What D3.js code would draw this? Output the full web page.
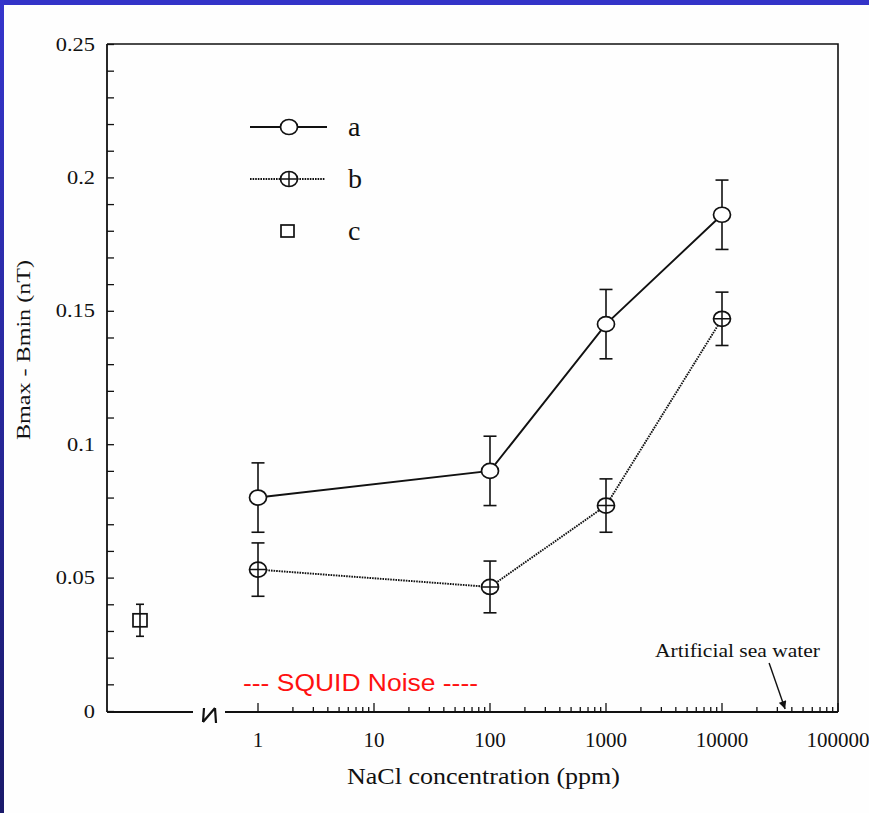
<!DOCTYPE html>
<html>
<head>
<meta charset="utf-8">
<script src="https://cdn.jsdelivr.net/npm/d3@7"></script>
<style>
  html, body { margin: 0; padding: 0; background: #ffffff; }
  svg { display: block; }
</style>
</head>
<body>
<svg id="chart" width="869" height="813"></svg>
<script>
// NaCl concentrations (ppm) for the measured series
const concentrations = [1, 100, 1000, 10000];
// series a: Bmax - Bmin (nT) and its error
const seriesA = [0.080, 0.090, 0.145, 0.186];
const errorA = [0.013, 0.013, 0.013, 0.013];
// series b
const seriesB = [0.053, 0.0465, 0.077, 0.147];
const errorB = [0.010, 0.0097, 0.010, 0.010];
// series c: the blank (no NaCl) reference
const seriesC = [0.034];
const errorC = [0.006];
const blankCategory = ["blank"];
// axis ticks
const yTicks = [0, 0.05, 0.1, 0.15, 0.2, 0.25];
const yTickLabels = ["0", "0.05", "0.1", "0.15", "0.2", "0.25"];
const xTicks = [1, 10, 100, 1000, 10000, 100000];
const xTickLabels = ["1", "10", "100", "1000", "10000", "100000"];
const legendLabels = ["a", "b", "c"];
const seaWaterPpm = 35000;

const svg = d3.select("#chart");

// page frame: blue band along the top and left edges
const defs = svg.append("defs");
const grad = defs.append("linearGradient")
  .attr("id", "edge").attr("x1", 0).attr("y1", 0).attr("x2", 0).attr("y2", 1);
grad.append("stop").attr("offset", "0%").attr("stop-color", "#3535cc");
grad.append("stop").attr("offset", "100%").attr("stop-color", "#1a1a6a");
svg.append("rect").attr("x", 0).attr("y", 0).attr("width", 869).attr("height", 813).attr("fill", "#fefefe");
svg.append("rect").attr("x", 0).attr("y", 0).attr("width", 869).attr("height", 5).attr("fill", "#3333c8");
svg.append("rect").attr("x", 0).attr("y", 0).attr("width", 4).attr("height", 813).attr("fill", "url(#edge)");

const plotLeft = 107, plotTop = 44, plotRight = 838, plotBottom = 711;
const logStart = 258;
const breakLeft = 193, breakRight = 225;

const y = d3.scaleLinear().domain([0, 0.25]).range([plotBottom, plotTop]);
const x = d3.scaleLog().domain([1, 100000]).range([logStart, plotRight]);
const xBlank = d3.scaleBand().domain(blankCategory).range([plotLeft, 173]);

const ink = "#111";
const serif = "'Liberation Serif', 'Times New Roman', serif";

// frame lines (top and right)
svg.append("path")
  .attr("d", `M${plotLeft},${plotTop}H${plotRight}V${plotBottom + 1}`)
  .attr("fill", "none").attr("stroke", ink).attr("stroke-width", 1.6);

// y axis with inward ticks every 0.01
const yAxis = d3.axisRight(y)
  .tickValues(d3.range(0, 0.2501, 0.01))
  .tickSize(7).tickFormat("");
const yg = svg.append("g").attr("transform", `translate(${plotLeft},0)`).call(yAxis);
yg.select(".domain").attr("stroke", ink).attr("stroke-width", 1.8).attr("d", `M0,${plotTop}V${plotBottom + 1}`);
yg.selectAll(".tick line").attr("stroke", ink).attr("stroke-width", 1.3);

// y tick labels, slightly widened serif
svg.append("g").selectAll("text").data(yTicks).join("text")
  .attr("transform", d => `translate(95,${y(d) + 6.5}) scale(1.18,1)`)
  .attr("text-anchor", "end")
  .attr("font-family", serif).attr("font-size", 19)
  .attr("fill", ink)
  .text((d, i) => yTickLabels[i]);

// x axis (log), broken near the origin
const minorX = [];
for (let e = 0; e < 5; e++) for (let m = 1; m <= 9; m++) minorX.push(m * Math.pow(10, e));
minorX.push(100000);
const xg = svg.append("g");
xg.append("path")
  .attr("d", `M${plotLeft},${plotBottom + 1}H${breakLeft}M${breakRight},${plotBottom + 1}H${plotRight}`)
  .attr("stroke", ink).attr("stroke-width", 1.8).attr("fill", "none");
xg.selectAll("line").data(minorX).join("line")
  .attr("x1", d => x(d)).attr("x2", d => x(d))
  .attr("y1", plotBottom + 1)
  .attr("y2", d => xTicks.includes(d) ? plotBottom - 8 : plotBottom - 4)
  .attr("stroke", ink).attr("stroke-width", 1.3);
// break mark
xg.append("path")
  .attr("d", `M${breakLeft + 11},${plotBottom - 3}L${breakLeft + 10},${plotBottom + 11}` +
             `M${breakLeft + 10},${plotBottom + 11}L${breakLeft + 22},${plotBottom - 3}` +
             `M${breakLeft + 22},${plotBottom - 3}L${breakLeft + 23},${plotBottom + 12}`)
  .attr("stroke", ink).attr("stroke-width", 2.2).attr("fill", "none");

svg.append("g").selectAll("text").data(xTicks).join("text")
  .attr("x", d => x(d)).attr("y", plotBottom + 36)
  .attr("text-anchor", "middle")
  .attr("font-family", serif).attr("font-size", 21)
  .attr("fill", ink)
  .text((d, i) => xTickLabels[i]);

// axis titles
svg.append("text")
  .attr("x", 347).attr("y", 784)
  .attr("font-family", serif).attr("font-size", 23)
  .attr("textLength", 273).attr("lengthAdjust", "spacingAndGlyphs")
  .attr("fill", ink).text("NaCl concentration (ppm)");
svg.append("text")
  .attr("transform", "translate(30,440) rotate(-90)")
  .attr("font-family", serif).attr("font-size", 19)
  .attr("textLength", 180).attr("lengthAdjust", "spacingAndGlyphs")
  .attr("fill", ink).text("Bmax - Bmin (nT)");

// error bars
function errorBars(xs, vals, errs, half) {
  const g = svg.append("g").attr("stroke", ink).attr("stroke-width", 1.6);
  vals.forEach((v, i) => {
    const cx = xs[i];
    const yt = y(v + errs[i]), yb = y(v - errs[i]);
    g.append("line").attr("x1", cx).attr("x2", cx).attr("y1", yt).attr("y2", yb);
    g.append("line").attr("x1", cx - half).attr("x2", cx + half).attr("y1", yt).attr("y2", yt);
    g.append("line").attr("x1", cx - half).attr("x2", cx + half).attr("y1", yb).attr("y2", yb);
  });
}

const xa = concentrations.map(c => x(c));
errorBars(xa, seriesA, errorA, 6.5);
errorBars(xa, seriesB, errorB, 6.5);

const line = d3.line().x((d, i) => xa[i]).y(d => y(d));
svg.append("path").datum(seriesA).attr("d", line)
  .attr("fill", "none").attr("stroke", ink).attr("stroke-width", 1.9);
svg.append("path").datum(seriesB).attr("d", line)
  .attr("fill", "none").attr("stroke", ink).attr("stroke-width", 1.9)
  .attr("stroke-dasharray", "1.6,1");

// markers
function openCircle(g, cx, cy, cross) {
  g.append("ellipse").attr("cx", cx).attr("cy", cy).attr("rx", 8.5).attr("ry", 7.5)
    .attr("fill", "#fff").attr("stroke", ink).attr("stroke-width", 1.7);
  if (cross) {
    g.append("path").attr("d", `M${cx - 8.5},${cy}H${cx + 8.5}M${cx},${cy - 7.5}V${cy + 7.5}`)
      .attr("stroke", ink).attr("stroke-width", 1.5);
  }
}
const mg = svg.append("g");
seriesA.forEach((v, i) => openCircle(mg, xa[i], y(v), false));
seriesB.forEach((v, i) => openCircle(mg, xa[i], y(v), true));

// blank sample (c)
const xc = blankCategory.map(c => xBlank(c) + xBlank.bandwidth() / 2);
errorBars(xc, seriesC, errorC, 4);
seriesC.forEach((v, i) => {
  mg.append("rect").attr("x", xc[i] - 7).attr("y", y(v) - 6.5).attr("width", 14).attr("height", 13)
    .attr("fill", "#fff").attr("stroke", ink).attr("stroke-width", 1.7);
});

// legend
const lg = svg.append("g");
const legendY = [127, 179, 231];
lg.append("line").attr("x1", 250).attr("x2", 327).attr("y1", legendY[0]).attr("y2", legendY[0])
  .attr("stroke", ink).attr("stroke-width", 1.8);
openCircle(lg, 289, legendY[0], false);
lg.append("line").attr("x1", 250).attr("x2", 325).attr("y1", legendY[1]).attr("y2", legendY[1])
  .attr("stroke", ink).attr("stroke-width", 1.9).attr("stroke-dasharray", "1.6,1");
openCircle(lg, 289, legendY[1], true);
lg.append("rect").attr("x", 281).attr("y", legendY[2] - 6).attr("width", 13).attr("height", 12)
  .attr("fill", "#fff").attr("stroke", ink).attr("stroke-width", 1.7);
lg.selectAll("text").data(legendLabels).join("text")
  .attr("x", 348).attr("y", (d, i) => legendY[i] + 9)
  .attr("font-family", serif).attr("font-size", 28)
  .attr("fill", ink).text(d => d);

// SQUID noise level label
svg.append("text")
  .attr("x", 243).attr("y", 691)
  .attr("font-family", "'Liberation Sans', Arial, sans-serif").attr("font-size", 23)
  .attr("textLength", 235).attr("lengthAdjust", "spacingAndGlyphs")
  .attr("fill", "#ff1010").text("--- SQUID Noise ----");

// artificial sea water annotation
defs.append("marker")
  .attr("id", "head").attr("viewBox", "0 0 10 10").attr("refX", 10).attr("refY", 5)
  .attr("markerWidth", 9).attr("markerHeight", 8).attr("orient", "auto")
  .attr("markerUnits", "userSpaceOnUse")
  .append("path").attr("d", "M0,0L10,5L0,10z").attr("fill", ink);
svg.append("text")
  .attr("x", 655).attr("y", 657)
  .attr("font-family", serif).attr("font-size", 19)
  .attr("textLength", 165).attr("lengthAdjust", "spacingAndGlyphs")
  .attr("fill", ink).text("Artificial sea water");
svg.append("line")
  .attr("x1", x(seaWaterPpm) - 16).attr("y1", 663)
  .attr("x2", x(seaWaterPpm)).attr("y2", y(0) - 2)
  .attr("stroke", ink).attr("stroke-width", 1.4)
  .attr("marker-end", "url(#head)");
</script>
</body>
</html>
